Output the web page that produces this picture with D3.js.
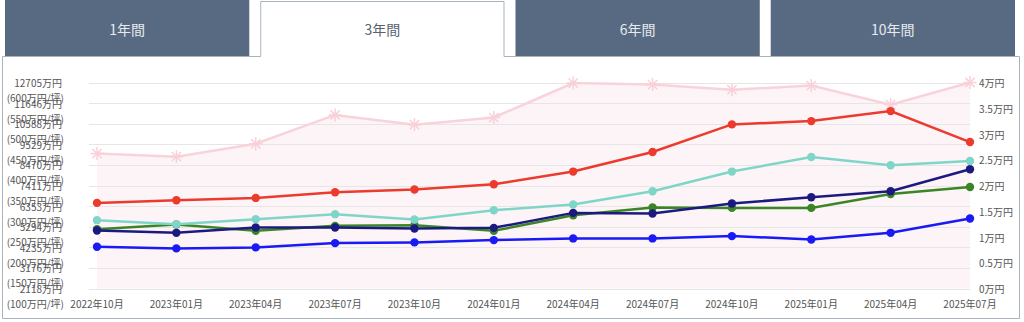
<!DOCTYPE html>
<html><head><meta charset="utf-8">
<script src="https://cdn.jsdelivr.net/npm/d3@7"></script>
<style>
html,body{margin:0;padding:0;background:#fff;}
svg{display:block;font-family:"Noto Sans CJK JP","Noto Sans",sans-serif;}
</style></head>
<body><svg id="c" width="1024" height="322"></svg>
<script>
const tabs = ["1年間","3年間","6年間","10年間"];
const activeTab = 1;
const months = ["2022年10月","2023年01月","2023年04月","2023年07月","2023年10月","2024年01月","2024年04月","2024年07月","2024年10月","2025年01月","2025年04月","2025年07月"];
// left axis (万円) ticks and per-坪 labels
const leftTicks = [2118,3176,4235,5294,6353,7411,8470,9529,10588,11646,12705];
const leftTsubo = [100,150,200,250,300,350,400,450,500,550,600];
const rightTicks = [0,0.5,1,1.5,2,2.5,3,3.5,4];
// series (万円, left axis)
const red   = [6517,6655,6773,7066,7204,7476,8127,9132,10552,10721,11234,9644];
const teal  = [5630,5425,5681,5938,5666,6143,6435,7117,8127,8875,8450,8670];
const navy  = [5102,4979,5256,5256,5204,5235,6004,5973,6486,6809,7117,8245];
const green = [5169,5410,5081,5338,5374,5081,5886,6281,6261,6261,6978,7337];
const blue  = [4261,4179,4230,4451,4487,4605,4692,4692,4810,4640,4979,5717];
// pink series (万円, right axis)
const pink  = [2.62,2.56,2.81,3.37,3.18,3.32,3.99,3.96,3.86,3.94,3.57,4.0];

const svg = d3.select("#c");
const border = "#a9b3c0";

// tabs
const tabX = d3.scaleBand().domain(tabs).range([5,1015]).paddingInner(0.043);
tabs.forEach((t,i)=>{
  const x0 = tabX(t), w = tabX.bandwidth();
  if(i===activeTab){
    svg.append("rect").attr("x",x0+0.5).attr("y",1.5).attr("width",w-1).attr("height",60).attr("fill","#fff");
    svg.append("path").attr("d",`M${x0+0.5},56.5V1.5H${x0+w-0.5}V56.5`).attr("fill","none").attr("stroke",border);
    svg.append("text").attr("x",x0+w/2).attr("y",29).attr("text-anchor","middle").attr("dominant-baseline","central")
      .attr("font-size",14).attr("fill","#5a6270").text(t);
  } else {
    svg.append("rect").attr("x",x0).attr("y",0).attr("width",w).attr("height",56).attr("fill","#586a82");
    svg.append("text").attr("x",x0+w/2).attr("y",29).attr("text-anchor","middle").attr("dominant-baseline","central")
      .attr("font-size",14).attr("fill","#e6eaef").text(t);
  }
});
// panel border
const ax0 = tabX(tabs[activeTab]), ax1 = ax0 + tabX.bandwidth();
svg.append("path").attr("d",`M${ax0+0.5},56.5H2.5V318.5H1019.5V56.5H${ax1-0.5}`).attr("fill","none").attr("stroke",border);

// scales
const x = d3.scalePoint().domain(months).range([97,970]);
const yL = d3.scaleLinear().domain([2118,12705]).range([288.5,82.5]);
const yR = d3.scaleLinear().domain([0,4]).range([288.5,82.5]);

// pink area
svg.append("path").datum(pink)
  .attr("d", d3.area().x((d,i)=>x(months[i])).y0(yR(0)).y1(d=>yR(d)))
  .attr("fill","#fdf4f7");

// gridlines
svg.append("g").selectAll("line").data(leftTicks).join("line")
  .attr("x1",89).attr("x2",970).attr("y1",d=>Math.round(yL(d))+0.5).attr("y2",d=>Math.round(yL(d))+0.5)
  .attr("stroke","#e6e6e6").attr("stroke-width",1);

// left axis labels
const gl = svg.append("g").attr("font-size",10).attr("fill","#555").attr("text-anchor","end");
leftTicks.forEach((v,i)=>{
  const yy = yL(v);
  gl.append("text").attr("x",62).attr("y",yy).attr("dominant-baseline","central").text(v+"万円");
  gl.append("text").attr("x",64).attr("y",yy+15).attr("dominant-baseline","central").text("("+leftTsubo[i]+"万円/坪)");
});
// right axis labels
svg.append("g").attr("font-size",10).attr("fill","#555").selectAll("text").data(rightTicks).join("text")
  .attr("x",979).attr("y",d=>yR(d)).attr("dominant-baseline","central").text(d=>d+"万円");
// x axis labels
svg.append("g").attr("font-size",10).attr("fill","#555").selectAll("text").data(months).join("text")
  .attr("x",d=>x(d)).attr("y",303).attr("text-anchor","middle").attr("dominant-baseline","central").text(d=>d);

// pink line + stars
const line = (ys)=>d3.line().x((d,i)=>x(months[i])).y(d=>ys(d));
svg.append("path").datum(pink).attr("d",line(yR)).attr("fill","none").attr("stroke","#f8d3da").attr("stroke-width",2.5);
const star = svg.append("g").attr("stroke","#f8d0d8").attr("stroke-width",1.5);
pink.forEach((d,i)=>{
  const cx = x(months[i]), cy = yR(d), r = 6.5;
  for(let k=0;k<4;k++){
    const a = k*Math.PI/4;
    star.append("line").attr("x1",cx-r*Math.cos(a)).attr("y1",cy-r*Math.sin(a)).attr("x2",cx+r*Math.cos(a)).attr("y2",cy+r*Math.sin(a));
  }
});

const series = [
  {data:blue,  color:"#1a1af5"},
  {data:green, color:"#3b8526"},
  {data:navy,  color:"#1c1a80"},
  {data:teal,  color:"#7fd6c8"},
  {data:red,   color:"#ec3a2d"}
];
series.forEach(s=>{
  svg.append("path").datum(s.data).attr("d",line(yL)).attr("fill","none").attr("stroke",s.color).attr("stroke-width",2.5);
  svg.append("g").selectAll("circle").data(s.data).join("circle")
    .attr("cx",(d,i)=>x(months[i])).attr("cy",d=>yL(d)).attr("r",4.2).attr("fill",s.color);
});
</script>
</body></html>
